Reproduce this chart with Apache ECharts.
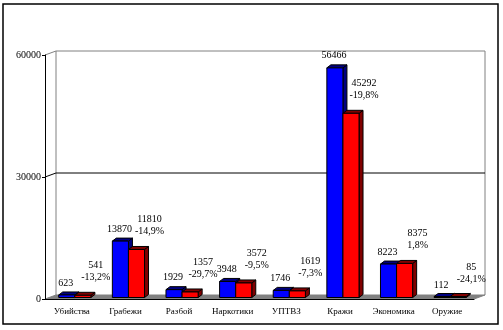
<!DOCTYPE html>
<html><head><meta charset="utf-8">
<script src="https://cdn.jsdelivr.net/npm/echarts@6/dist/echarts.min.js"></script>
<style>html,body{margin:0;padding:0;background:#fff}#c{width:503px;height:330px}</style>
</head><body><div id="c"></div>
<script>
const categories = ['Убийства','Грабежи','Разбой','Наркотики','УПТВЗ','Кражи','Экономика','Оружие'];
const values2003 = [623,13870,1929,3948,1746,56466,8223,112];
const values2004 = [541,11810,1357,3572,1619,45292,8375,85];
const changeLabels = ['-13,2%','-14,9%','-29,7%','-9,5%','-7,3%','-19,8%','1,8%','-24,1%'];
const yTicks = [0,30000,60000];

const FONT = 'Liberation Serif';
const WDX = 11, WDY = -4;   // wall depth
const BDX = 4, BDY = -3;    // bar depth

function renderWall(params, api) {
  const cs = params.coordSys;
  const x = cs.x, y = cs.y, w = cs.width, h = cs.height;
  const gy = api.coord([0, yTicks[1]])[1];
  const gray = '#808080';
  const ln = (x1,y1,x2,y2,c) => ({type:'line', shape:{x1,y1,x2,y2}, style:{stroke:c, lineWidth:1}});
  return {type:'group', children:[
    {type:'polygon', shape:{points:[[x,y+h],[x+w,y+h],[x+w+WDX,y+h+WDY],[x+WDX,y+h+WDY]]}, style:{fill:gray, stroke:gray}},
    ln(x+WDX,y+WDY,x+WDX,y+h+WDY,gray),
    ln(x+WDX,y+WDY,x+w+WDX,y+WDY,gray),
    ln(x+w+WDX,y+WDY,x+w+WDX,y+h+WDY,gray),
    ln(x,y,x+WDX,y+WDY,gray),
    ln(x,gy,x+WDX,gy+WDY,'#000'),
    ln(x+WDX,gy+WDY,x+w+WDX,gy+WDY,'#000')
  ]};
}

function bar3d(left, top, bottom, bw, front, dark) {
  return [
    {type:'polygon', shape:{points:[[left+bw,bottom],[left+bw+BDX,bottom+BDY],[left+bw+BDX,top+BDY],[left+bw,top]]}, style:{fill:dark, stroke:'#000', lineWidth:1}},
    {type:'polygon', shape:{points:[[left,top],[left+bw,top],[left+bw+BDX,top+BDY],[left+BDX,top+BDY]]}, style:{fill:dark, stroke:'#000', lineWidth:1}},
    {type:'rect', shape:{x:left, y:top, width:bw, height:bottom-top}, style:{fill:front, stroke:'#000', lineWidth:1}}
  ];
}

function renderBars(params, api) {
  const i = api.value(0);
  const v1 = api.value(1), v2 = api.value(2);
  const band = api.size([1,0])[0];
  const bw = band * 0.3;
  const cx = api.coord([i, 0])[0];
  const base = api.coord([i, 0])[1] - 1.5;
  const t1 = api.coord([i, v1])[1] - 1.5;
  const t2 = api.coord([i, v2])[1] - 1.5;
  const l1 = cx - bw + 3, l2 = l1 + bw;
  const f = '10px "'+FONT+'"';
  const children = [].concat(
    bar3d(l1, Math.min(t1, base-1), base, bw, '#0000FF', '#000080'),
    bar3d(l2, Math.min(t2, base-1), base, bw, '#FF0000', '#800000'),
    [
      {type:'text', style:{text:String(v1), x:l1+bw/2-1, y:t1-6, align:'center', verticalAlign:'bottom', fill:'#000', font:f, lineHeight:12}},
      {type:'text', style:{text:String(v2)+'\n'+changeLabels[i], x:l2+bw/2+13, y:t2-12, align:'center', verticalAlign:'bottom', fill:'#000', font:f, lineHeight:12}}
    ]
  );
  return {type:'group', children};
}

const chart = echarts.init(document.getElementById('c'), null, {renderer:'canvas'});
chart.setOption({
  backgroundColor:'#fff',
  animation:false,
  graphic:[{type:'rect', shape:{x:3, y:4, width:495, height:320}, style:{fill:'none', stroke:'#000', lineWidth:1.5}, z:100}],
  grid:{left:45, right:29, top:55, bottom:31},
  xAxis:{type:'category', data:categories, z:5,
    axisLine:{lineStyle:{color:'#000', width:1}},
    axisTick:{length:4, interval:0, lineStyle:{color:'#000'}},
    axisLabel:{color:'#000', fontFamily:FONT, fontSize:9, margin:8, interval:0}},
  yAxis:{type:'value', min:yTicks[0], max:yTicks[2], interval:yTicks[1], z:5,
    axisLine:{show:true, lineStyle:{color:'#000', width:1}},
    axisTick:{show:true, length:3, lineStyle:{color:'#000'}},
    splitLine:{show:false},
    axisLabel:{color:'#000', fontFamily:FONT, fontSize:10, margin:4, formatter:v=>String(v)}},
  series:[
    {type:'custom', silent:true, z:1, renderItem:renderWall, data:[[0,0]], encode:{x:0,y:1}},
    {type:'custom', silent:true, z:2, renderItem:renderBars,
      data:categories.map((c,i)=>[i, values2003[i], values2004[i]]), encode:{x:0, y:[1,2]}}
  ]
});
</script></body></html>
